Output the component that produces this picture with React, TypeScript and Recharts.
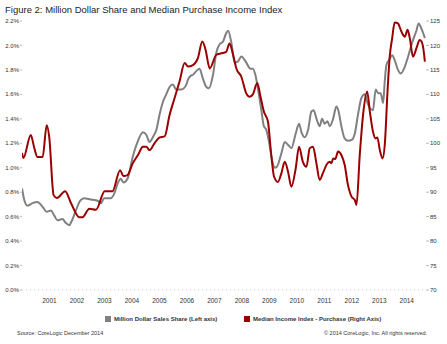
import React from 'react'
import { LineChart, Line, XAxis, YAxis } from 'recharts'

// decimal years
const shareDates = [
  2000.0, 2000.09, 2000.2, 2000.38, 2000.56, 2000.75, 2000.9, 2001.05, 2001.17, 2001.29,
  2001.47, 2001.59, 2001.72, 2001.8, 2001.96, 2002.12, 2002.26, 2002.5, 2002.75, 2002.87,
  2002.99, 2003.23, 2003.36, 2003.48, 2003.59, 2003.69, 2003.84, 2004.03, 2004.22, 2004.4,
  2004.52, 2004.64, 2004.76, 2004.89, 2005.01, 2005.13, 2005.25, 2005.37, 2005.49, 2005.61,
  2005.8, 2005.98, 2006.04, 2006.13, 2006.22, 2006.34, 2006.46, 2006.58, 2006.71, 2006.8,
  2006.95, 2007.07, 2007.19, 2007.31, 2007.43, 2007.5, 2007.62, 2007.74, 2007.86, 2007.98,
  2008.16, 2008.31, 2008.4, 2008.49, 2008.59, 2008.71, 2008.8, 2008.89, 2008.99, 2009.11,
  2009.19, 2009.28, 2009.44, 2009.56, 2009.71, 2009.8, 2009.96, 2010.08, 2010.17, 2010.29,
  2010.41, 2010.53, 2010.61, 2010.73, 2010.83, 2010.92, 2011.01, 2011.11, 2011.2, 2011.32,
  2011.44, 2011.52, 2011.62, 2011.74, 2011.86, 2012.01, 2012.11, 2012.23, 2012.35, 2012.47,
  2012.57, 2012.65, 2012.77, 2012.87, 2012.96, 2013.05, 2013.14, 2013.2, 2013.26, 2013.35,
  2013.47, 2013.56, 2013.68, 2013.78, 2013.9, 2014.05, 2014.19, 2014.35, 2014.43, 2014.53,
  2014.66,
]
const shareValues = [
  0.83, 0.73, 0.69, 0.71, 0.72, 0.68, 0.64, 0.65, 0.61, 0.57,
  0.58, 0.55, 0.53, 0.56, 0.65, 0.73, 0.75, 0.74, 0.73, 0.71,
  0.75, 0.75, 0.79, 0.87, 0.91, 0.88, 0.91, 1.09, 1.22, 1.29,
  1.27, 1.21, 1.25, 1.31, 1.44, 1.54, 1.6, 1.66, 1.68, 1.64,
  1.64, 1.68, 1.72, 1.75, 1.76, 1.79, 1.81, 1.73, 1.66, 1.65,
  1.76, 1.94, 2.01, 2.03, 2.1, 2.12, 2.02, 1.86, 1.87, 1.91,
  1.86, 1.81, 1.81, 1.76, 1.64, 1.47, 1.34, 1.31, 1.21, 1.05,
  1.0, 1.01, 1.12, 1.21, 1.18, 1.16, 1.28, 1.36, 1.29, 1.25,
  1.31, 1.46, 1.47, 1.39, 1.34, 1.4, 1.36, 1.38, 1.34, 1.4,
  1.5, 1.46, 1.34, 1.24, 1.22, 1.23, 1.28, 1.44, 1.57, 1.6,
  1.53, 1.49, 1.47, 1.64, 1.61, 1.61, 1.53, 1.71, 1.84, 1.88,
  1.92, 1.88, 1.8, 1.77, 1.81, 1.91, 2.02, 2.12, 2.18, 2.14,
  2.06,
]

const incomeDates = [
  2000.0, 2000.05, 2000.32, 2000.44, 2000.56, 2000.75, 2000.9, 2000.99, 2001.15, 2001.27,
  2001.57, 2001.78, 2002.08, 2002.2, 2002.45, 2002.69, 2003.01, 2003.29, 2003.57, 2003.69,
  2003.84, 2004.03, 2004.22, 2004.4, 2004.52, 2004.64, 2004.82, 2005.01, 2005.19, 2005.37,
  2005.55, 2005.73, 2005.92, 2006.04, 2006.22, 2006.4, 2006.56, 2006.68, 2006.83, 2007.07,
  2007.25, 2007.43, 2007.55, 2007.68, 2007.8, 2007.98, 2008.16, 2008.28, 2008.4, 2008.56,
  2008.68, 2008.8, 2008.95, 2009.07, 2009.17, 2009.31, 2009.44, 2009.56, 2009.68, 2009.8,
  2009.96, 2010.08, 2010.22, 2010.35, 2010.47, 2010.59, 2010.71, 2010.83, 2010.95, 2011.08,
  2011.2, 2011.26, 2011.32, 2011.4, 2011.5, 2011.62, 2011.74, 2011.86, 2011.99, 2012.11,
  2012.17, 2012.29, 2012.41, 2012.56, 2012.65, 2012.77, 2012.86, 2012.93, 2013.02, 2013.12,
  2013.2, 2013.3, 2013.38, 2013.47, 2013.56, 2013.68, 2013.78, 2013.87, 2013.93, 2014.03,
  2014.11, 2014.23, 2014.35, 2014.47, 2014.54, 2014.59, 2014.66,
]
const incomeValues = [
  98.0, 97.0, 101.7, 99.2, 97.2, 97.2, 103.7, 101.3, 89.4, 88.8,
  90.2, 87.8, 84.9, 84.9, 86.6, 86.4, 90.2, 90.2, 94.5, 93.3,
  93.5, 95.9, 97.6, 99.3, 99.3, 98.6, 100.0, 101.2, 101.4, 105.8,
  109.2, 112.6, 116.4, 115.7, 116.0, 117.4, 120.8, 119.1, 115.3, 118.1,
  118.4, 118.7, 120.4, 118.1, 115.3, 113.6, 110.2, 109.5, 110.0, 112.3,
  109.5, 106.5, 104.4, 97.6, 93.2, 92.1, 93.9, 96.2, 94.2, 91.1,
  94.9, 99.3, 96.2, 95.2, 99.0, 99.3, 96.0, 92.5, 93.9, 95.6,
  96.2, 95.9, 96.9, 96.8, 98.3, 97.6, 95.6, 91.5, 89.1, 88.4,
  87.4, 97.6, 105.8, 110.6, 106.8, 102.4, 101.0, 101.2, 98.6, 96.9,
  99.7, 110.6, 117.7, 121.5, 124.7, 124.5, 123.2, 122.1, 121.8, 123.2,
  121.5, 117.7, 119.4, 121.1, 120.8, 119.8, 116.7,
]

const yearTicks = [2001, 2002, 2003, 2004, 2005, 2006, 2007, 2008, 2009, 2010, 2011, 2012, 2013, 2014]
const shareTicks = [0, 0.2, 0.4, 0.6, 0.8, 1.0, 1.2, 1.4, 1.6, 1.8, 2.0, 2.2]
const incomeTicks = [70, 75, 80, 85, 90, 95, 100, 105, 110, 115, 120, 125]

const shareData = shareDates.map((t, i) => ({ t, v: shareValues[i] }))
const incomeData = incomeDates.map((t, i) => ({ t, v: incomeValues[i] }))

const GRAY = '#808080'
const RED = '#990000'
const FONT = '"Liberation Sans", Arial, sans-serif'

export default function App() {
  const tickStyle = { fontSize: 6, fill: '#333', fontFamily: FONT }
  return (
    <div style={{ position: 'absolute', left: 0, top: 0, width: 447, height: 344, background: '#fff', fontFamily: FONT }}>
      <div style={{ position: 'absolute', left: 5, top: 4, fontSize: 9.5, color: '#222', whiteSpace: 'nowrap' }}>
        Figure 2: Million Dollar Share and Median Purchase Income Index
      </div>
      <LineChart width={447} height={344} margin={{ top: 21, right: 0, left: 0, bottom: 34 }}>
        <XAxis
          type="number"
          dataKey="t"
          domain={[2000, 2014.7]}
          ticks={yearTicks}
          allowDataOverflow
          tickLine={false}
          tickSize={4}
          tickMargin={4}
          axisLine={{ stroke: '#ccc', strokeDasharray: '1 3' }}
          tick={{ ...tickStyle, fontSize: 6.5 }}
          height={20}
        />
        <YAxis
          yAxisId="left"
          domain={[0, 2.2]}
          ticks={shareTicks}
          tickFormatter={(v) => v.toFixed(1) + '%'}
          axisLine={false}
          tickLine={{ stroke: '#bbb' }}
          tickSize={2}
          tickMargin={1}
          tick={tickStyle}
          width={22}
        />
        <YAxis
          yAxisId="right"
          orientation="right"
          domain={[70, 125]}
          ticks={incomeTicks}
          axisLine={false}
          tickLine={{ stroke: '#bbb' }}
          tickSize={3}
          tickMargin={1}
          tick={tickStyle}
          width={21}
        />
        <Line
          yAxisId="left"
          data={shareData}
          dataKey="v"
          name="Million Dollar Sales Share (Left axis)"
          type="monotone"
          stroke={GRAY}
          strokeWidth={2}
          dot={false}
          isAnimationActive={false}
        />
        <Line
          yAxisId="right"
          data={incomeData}
          dataKey="v"
          name="Median Income Index - Purchase (Right Axis)"
          type="monotone"
          stroke={RED}
          strokeWidth={2}
          dot={false}
          isAnimationActive={false}
        />
      </LineChart>
      <div style={{ position: 'absolute', top: 316, left: 105, display: 'flex', alignItems: 'center', fontSize: 6, fontWeight: 'bold', color: '#333', whiteSpace: 'nowrap' }}>
        <span style={{ display: 'inline-block', width: 6, height: 6, background: GRAY, marginRight: 3 }} />
        <span>Million Dollar Sales Share (Left axis)</span>
      </div>
      <div style={{ position: 'absolute', top: 316, left: 244, display: 'flex', alignItems: 'center', fontSize: 6, fontWeight: 'bold', color: '#333', whiteSpace: 'nowrap' }}>
        <span style={{ display: 'inline-block', width: 6, height: 6, background: RED, marginRight: 3 }} />
        <span>Median Income Index - Purchase (Right Axis)</span>
      </div>
      <div style={{ position: 'absolute', top: 330, left: 17, fontSize: 5.5, color: '#333', whiteSpace: 'nowrap' }}>
        Source: CoreLogic December 2014
      </div>
      <div style={{ position: 'absolute', top: 330, left: 324, fontSize: 5.5, color: '#333', whiteSpace: 'nowrap' }}>
        © 2014 CoreLogic, Inc. All rights reserved.
      </div>
    </div>
  )
}
